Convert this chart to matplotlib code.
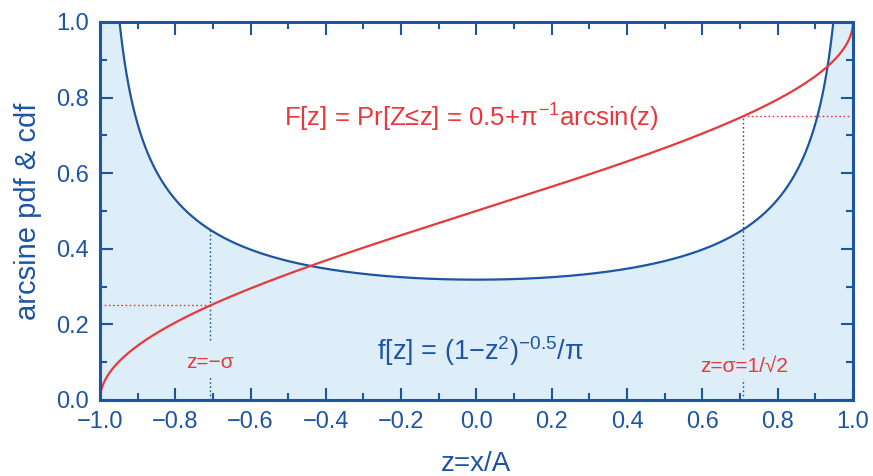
import numpy as np
import matplotlib
matplotlib.use("Agg")
import matplotlib.pyplot as plt
from matplotlib.ticker import MultipleLocator

plt.rcParams["font.family"] = ["Liberation Sans", "DejaVu Sans"]
plt.rcParams["mathtext.fontset"] = "custom"
plt.rcParams["mathtext.rm"] = "Liberation Sans"
plt.rcParams["mathtext.it"] = "Liberation Sans"
plt.rcParams["mathtext.sf"] = "Liberation Sans"

BLUE = "#1d55a3"
RED = "#e8383d"
FILL = "#ddeef9"

# sample grid on z = x/A
z = np.linspace(-1.0, 1.0, 4001)[1:-1]
sigma = 1.0 / np.sqrt(2.0)
x_ticks = [-1.0, -0.8, -0.6, -0.4, -0.2, 0.0, 0.2, 0.4, 0.6, 0.8, 1.0]
y_ticks = [0.0, 0.2, 0.4, 0.6, 0.8, 1.0]

pdf = 1.0 / (np.pi * np.sqrt(1.0 - z ** 2))
cdf = 0.5 + np.arcsin(z) / np.pi

fig = plt.figure(figsize=(8.73, 4.76), dpi=100)
ax = fig.add_axes([0.1145, 0.1597, 0.8625, 0.7941])

# shaded region under the density
zf = np.concatenate(([-1.0], z, [1.0]))
pf = np.concatenate(([10.0], pdf, [10.0]))
ax.fill_between(zf, 0, pf, color=FILL, lw=0, zorder=0)
ax.plot(z, pdf, color=BLUE, lw=1.6, zorder=3)
ax.plot(np.concatenate(([-1.0], z, [1.0])), np.concatenate(([0.0], cdf, [1.0])),
        color=RED, lw=1.6, zorder=3)

# guides at z = -sigma and z = +sigma
pdf_s = 1.0 / (np.pi * np.sqrt(1.0 - sigma ** 2))
cdf_lo = 0.5 + np.arcsin(-sigma) / np.pi
cdf_hi = 0.5 + np.arcsin(sigma) / np.pi
dot = dict(lw=1.0, ls=(0, (1.2, 1.8)), zorder=2)
ax.plot([-sigma, -sigma], [0.0, 0.065], color=BLUE, **dot)
ax.plot([-sigma, -sigma], [0.16, pdf_s], color=BLUE, **dot)
ax.plot([-1.0, -sigma], [cdf_lo, cdf_lo], color=RED, **dot)
ax.plot([sigma, sigma], [0.0, 0.055], color=BLUE, **dot)
ax.plot([sigma, sigma], [0.135, cdf_hi], color=BLUE, **dot)
ax.plot([sigma, 1.0], [cdf_hi, cdf_hi], color=RED, **dot)

ax.text(-sigma, 0.10, "z=\u2212\u03c3", color=RED, fontsize=15, ha="center", va="center")
ax.text(sigma + 0.005, 0.09, "z=\u03c3=1/\u221a2", color=RED, fontsize=15,
        ha="center", va="center")
ax.text(-0.015, 0.745, "F[z] = Pr[Z\u2264z] = 0.5+" + r"$\pi^{-1}$" + "arcsin(z)", color=RED,
        fontsize=18.5, ha="center", va="center")
ax.text(0.01, 0.13, r"f[z] = (1$-$z$^{2}$)$^{-0.5}$/$\pi$", color=BLUE,
        fontsize=19.5, ha="center", va="center")

ax.set_xlim(-1.0, 1.0)
ax.set_ylim(0.0, 1.0)
ax.set_xticks(x_ticks)
ax.set_yticks(y_ticks)
ax.set_xticklabels([f"{v:.1f}".replace("-", "\u2212") for v in x_ticks])
ax.set_yticklabels([f"{v:.1f}" for v in y_ticks])
ax.xaxis.set_minor_locator(MultipleLocator(0.1))
ax.yaxis.set_minor_locator(MultipleLocator(0.1))
ax.tick_params(which="both", direction="in", top=True, right=True, colors=BLUE,
               labelcolor=BLUE, labelsize=17, width=1.5)
ax.tick_params(which="major", length=9, pad=8)
ax.tick_params(which="minor", length=5)
for s in ax.spines.values():
    s.set_color(BLUE)
    s.set_linewidth(2.2)
    s.set_zorder(5)

ax.set_xlabel("z=x/A", color=BLUE, fontsize=20, labelpad=13)
ax.set_ylabel("arcsine pdf & cdf", color=BLUE, fontsize=21, labelpad=10)

fig.savefig("out.png", dpi=100)
